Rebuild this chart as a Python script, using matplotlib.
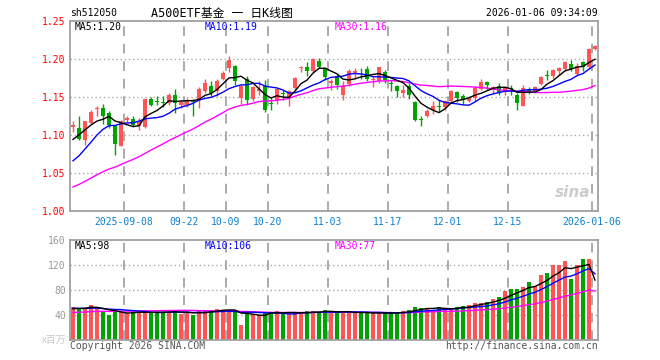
import matplotlib
matplotlib.use("Agg")
import matplotlib.pyplot as plt
import numpy as np
import pandas as pd

# daily K-line, 2025-08-26 .. 2026-01-06 (88 trading days)
opens = [1.111, 1.109, 1.094, 1.1157, 1.134, 1.1355, 1.129, 1.112, 1.086, 1.12,
         1.121, 1.112, 1.1105, 1.147, 1.1435, 1.1435, 1.142, 1.153, 1.14, 1.14,
         1.145, 1.1456, 1.1575, 1.165, 1.1575, 1.1737, 1.188, 1.191, 1.1487, 1.1737,
         1.1473, 1.1575, 1.164, 1.142, 1.1465, 1.155, 1.1487, 1.1618, 1.188, 1.189,
         1.1838, 1.198, 1.188, 1.168, 1.1773, 1.153, 1.167, 1.1807, 1.1842, 1.187,
         1.173, 1.1706, 1.1825, 1.1678, 1.165, 1.1553, 1.165, 1.143, 1.1205, 1.1254,
         1.1324, 1.138, 1.1375, 1.1443, 1.156, 1.1508, 1.1443, 1.1487, 1.1605, 1.1693,
         1.1615, 1.165, 1.156, 1.1607, 1.153, 1.1385, 1.1605, 1.1574, 1.1675, 1.1783,
         1.1772, 1.1838, 1.1868, 1.1938, 1.1807, 1.1956, 1.1895, 1.2136]
highs = [1.118, 1.1245, 1.118, 1.133, 1.1385, 1.1407, 1.131, 1.1135, 1.12, 1.125,
         1.1255, 1.122, 1.1487, 1.1495, 1.151, 1.151, 1.155, 1.16, 1.146, 1.1487,
         1.147, 1.1627, 1.1737, 1.1706, 1.1737, 1.1838, 1.2035, 1.1925, 1.166, 1.177,
         1.164, 1.1706, 1.1728, 1.1486, 1.162, 1.159, 1.1596, 1.176, 1.191, 1.1956,
         1.2013, 1.2013, 1.19, 1.174, 1.18, 1.1706, 1.187, 1.188, 1.188, 1.191,
         1.178, 1.19, 1.185, 1.172, 1.166, 1.166, 1.1684, 1.1443, 1.1254, 1.1342,
         1.145, 1.1465, 1.1465, 1.159, 1.1575, 1.1543, 1.151, 1.164, 1.1737, 1.1706,
         1.1649, 1.1684, 1.164, 1.166, 1.1552, 1.166, 1.163, 1.164, 1.177, 1.185,
         1.1868, 1.1895, 1.197, 1.1982, 1.1947, 1.197, 1.2145, 1.219]
lows = [1.104, 1.094, 1.087, 1.114, 1.125, 1.114, 1.109, 1.074, 1.085, 1.1165,
        1.11, 1.107, 1.109, 1.1377, 1.14, 1.137, 1.14, 1.129, 1.1355, 1.137,
        1.1245, 1.1355, 1.155, 1.151, 1.151, 1.172, 1.1825, 1.166, 1.1407, 1.14,
        1.145, 1.153, 1.13, 1.1324, 1.1407, 1.1465, 1.1377, 1.1597, 1.1825, 1.178,
        1.1825, 1.188, 1.1728, 1.159, 1.161, 1.146, 1.164, 1.1737, 1.1737, 1.1706,
        1.163, 1.1684, 1.1684, 1.1575, 1.15, 1.15, 1.1474, 1.118, 1.1123, 1.1236,
        1.128, 1.1298, 1.1333, 1.142, 1.143, 1.1412, 1.143, 1.1443, 1.1596, 1.1596,
        1.1552, 1.153, 1.153, 1.153, 1.1333, 1.1377, 1.1543, 1.1552, 1.166, 1.173,
        1.175, 1.1794, 1.1846, 1.1838, 1.1794, 1.1846, 1.1882, 1.212]
closes = [1.113, 1.095, 1.118, 1.1298, 1.136, 1.125, 1.1135, 1.088, 1.118, 1.123,
          1.1135, 1.118, 1.147, 1.14, 1.143, 1.1425, 1.153, 1.142, 1.143, 1.145,
          1.1435, 1.1605, 1.1685, 1.155, 1.1715, 1.1816, 1.199, 1.1706, 1.164, 1.1456,
          1.163, 1.1605, 1.1333, 1.141, 1.1605, 1.1543, 1.1583, 1.175, 1.19, 1.1838,
          1.20, 1.1895, 1.1763, 1.171, 1.166, 1.165, 1.1838, 1.1838, 1.1836, 1.1737,
          1.1737, 1.189, 1.172, 1.1672, 1.1575, 1.159, 1.153, 1.1193, 1.12, 1.132,
          1.1386, 1.1375, 1.1443, 1.1574, 1.1487, 1.1456, 1.1487, 1.1618, 1.1693, 1.1653,
          1.162, 1.1553, 1.1618, 1.160, 1.142, 1.1618, 1.156, 1.163, 1.1758, 1.178,
          1.185, 1.188, 1.1956, 1.1868, 1.1912, 1.1895, 1.2136, 1.2175]
# volume, millions
volumes = [52.8, 50.7, 50.7, 56.5, 50.7, 44.3, 39.5, 44.3, 45.3, 42.7,
           45.3, 44.3, 44.3, 44.3, 44.3, 45.3, 45.3, 46.4, 42.1, 43.2,
           40.5, 45.9, 45.9, 48.5, 50.1, 47.5, 48.5, 45.3, 24.5, 46.9,
           41.6, 40.5, 43.2, 45.3, 46.9, 42.1, 42.1, 43.2, 43.2, 46.9,
           46.9, 42.7, 48.5, 44.3, 43.2, 46.9, 43.2, 43.2, 43.2, 43.2,
           43.2, 43.2, 43.2, 43.2, 43.2, 47.0, 48.5, 53.0, 52.0, 51.0,
           48.0, 53.0, 48.5, 50.0, 53.0, 55.0, 56.5, 59.7, 59.7, 61.3,
           66.1, 69.3, 77.9, 81.6, 82.1, 85.3, 92.3, 86.9, 104.5, 107.7,
           119.5, 119.5, 126.9, 97.6, 119.5, 130.1, 130.1, 2.1]

# 29 sessions before the window, estimated from where the MA lines start
prior_closes = [0.995, 0.998, 1.000, 1.003, 1.006, 1.009, 1.012, 1.015, 1.017, 1.020,
                1.010, 1.015, 1.012, 1.018, 1.020, 1.022, 1.025, 1.028, 1.030, 1.033,
                1.030, 1.028, 1.040, 1.042, 1.050, 1.065, 1.085, 1.098, 1.110]
prior_volumes = [38, 41, 36, 40, 43, 39, 42, 38, 40, 44, 41, 37, 42, 40, 39, 43, 41, 40, 42, 44,
                 55, 50, 53, 51, 51, 48, 50, 47, 52]

date_idx = [9, 19, 26, 33, 43, 53, 63, 73, 87]
date_labels = ["2025-09-08", "09-22", "10-09", "10-20", "11-03", "11-17", "12-01", "12-15", "2026-01-06"]
price_ticks = [1.00, 1.05, 1.10, 1.15, 1.20, 1.25]
vol_ticks = [40, 80, 120, 160]
price_ma_text = ["MA5:1.20", "MA10:1.19", "MA30:1.16"]
vol_ma_text = ["MA5:98", "MA10:106", "MA30:77"]

RED = "#ff5555"
GREEN = "#00a400"
GRID = "#aaaaaa"
FRAME = "#a0a0a0"
MONO = "DejaVu Sans Mono"

n = len(closes)
x = np.arange(n)
o = np.array(opens)
c = np.array(closes)
up = c >= o
colors = [RED if u else GREEN for u in up]

close_all = pd.Series(prior_closes + closes)
vol_all = pd.Series(prior_volumes + volumes)
k = len(prior_closes)
ma = {m: close_all.rolling(m).mean().to_numpy()[k:] for m in (5, 10, 30)}
vma = {m: vol_all.rolling(m).mean().to_numpy()[k:] for m in (5, 10, 30)}
ma_colors = {5: "black", 10: "#0000ff", 30: "#ff00ff"}

W, H = 660, 360
fig = plt.figure(figsize=(6.6, 3.6), dpi=100)
ax = fig.add_axes([70 / W, 1 - 211 / H, 528 / W, 190 / H])
axv = fig.add_axes([70 / W, 1 - 340 / H, 528 / W, 100 / H])

for a in (ax, axv):
    a.set_xlim(-0.5, n - 0.5)
    for s in a.spines.values():
        s.set_color(FRAME)
        s.set_linewidth(1.3)
    a.tick_params(length=0)
    a.vlines([d - 0.5 for d in date_idx], 0, 1, transform=a.get_xaxis_transform(),
             colors=GRID, linestyles=(0, (5, 4)), linewidth=1.4, zorder=1)

# price panel
ax.set_ylim(1.00, 1.25)
for t in price_ticks[1:-1]:
    ax.axhline(t, color=GRID, linestyle=(0, (1, 2)), linewidth=1, zorder=1)
body = np.maximum(np.abs(c - o), 0.0012)
ax.vlines(x, lows, highs, colors=colors, linewidth=1, zorder=2)
ax.bar(x, body, bottom=np.minimum(o, c), width=0.83, color=colors, zorder=2)
for m in (30, 10, 5):
    ax.plot(x, ma[m], color=ma_colors[m], linewidth=1, zorder=3)
ax.set_yticks(price_ticks)
ax.set_yticklabels([f"{t:.2f}" for t in price_ticks], color="red", family=MONO, fontsize=7)
ax.set_xticks([d - 0.5 for d in date_idx])
ax.set_xticklabels(date_labels, color="#0a80d0", family=MONO, fontsize=7)
ax.tick_params(axis="y", pad=3)
ax.tick_params(axis="x", pad=4)
ax.text(0.985, 0.06, "sina", transform=ax.transAxes, ha="right", va="bottom",
        fontsize=11, fontweight="bold", style="italic", color="#cccccc", zorder=1)

# volume panel
axv.set_ylim(0, 160)
for t in vol_ticks[:-1]:
    axv.axhline(t, color=GRID, linestyle=(0, (1, 2)), linewidth=1, zorder=1)
axv.bar(x, volumes, width=0.83, color=colors, zorder=2)
for m in (30, 10, 5):
    axv.plot(x, vma[m], color=ma_colors[m], linewidth=1, zorder=3)
axv.set_yticks(vol_ticks)
axv.set_yticklabels([str(t) for t in vol_ticks], color="#999999", family=MONO, fontsize=7)
axv.set_xticks([])
axv.tick_params(axis="y", pad=3)


def put(px, py, s, **kw):
    fig.text(px / W, 1 - py / H, s, va="center", **kw)


put(70, 13, "sh512050", family=MONO, fontsize=7)
put(151, 13, "A500ETF基金 一 日K线图", family=[MONO, "Noto Sans CJK SC"], fontsize=8.5)
put(598, 13, "2026-01-06 09:34:09", family=MONO, fontsize=7, ha="right")

for px, s, col in zip((75, 205, 335), price_ma_text, ("black", "#0000ff", "#ff00ff")):
    put(px, 26.5, s, family=MONO, fontsize=7, color=col)
for px, s, col in zip((75, 205, 335), vol_ma_text, ("black", "#0000ff", "#ff00ff")):
    put(px, 246, s, family=MONO, fontsize=7, color=col)

put(66, 340, "x百万", family=["Noto Sans CJK SC"], fontsize=7, color="#c8c8c8", ha="right")
put(70, 346, "Copyright 2026 SINA.COM", family=MONO, fontsize=7, color="#555555")
put(598, 346, "http://finance.sina.com.cn", family=MONO, fontsize=7, color="#555555", ha="right")

fig.savefig("out.png", dpi=100, facecolor="white")
